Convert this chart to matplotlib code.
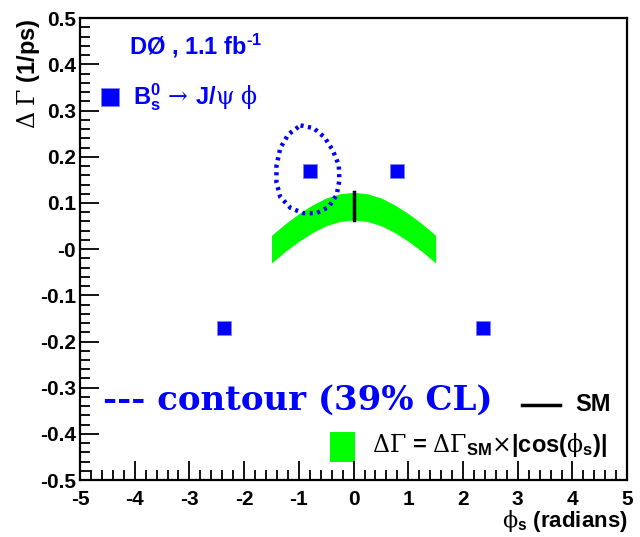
import numpy as np
import matplotlib
matplotlib.use("Agg")
import matplotlib.pyplot as plt
from matplotlib.patches import Rectangle
from matplotlib.ticker import MultipleLocator

plt.rcParams['font.family'] = ['Liberation Sans', 'DejaVu Sans']
plt.rcParams['font.weight'] = 'bold'
plt.rcParams['mathtext.fontset'] = 'custom'
plt.rcParams['mathtext.rm'] = 'Liberation Sans:bold'
plt.rcParams['mathtext.it'] = 'Liberation Sans:bold'
plt.rcParams['mathtext.bf'] = 'Liberation Sans:bold'
plt.rcParams['mathtext.sf'] = 'Liberation Sans:bold'
plt.rcParams['mathtext.cal'] = 'DejaVu Serif:regular'

# measured points (phi_s, DeltaGamma)
pts_x = [-0.80, 0.80, -2.36, 2.36]
pts_y = [0.17, 0.17, -0.17, -0.17]

# 39% CL contour
cont_x = [-0.97, -0.73, -0.53, -0.38, -0.27, -0.26, -0.31, -0.46, -0.68,
          -0.92, -1.15, -1.34, -1.41, -1.41, -1.34, -1.19, -0.97]
cont_y = [0.268, 0.262, 0.242, 0.214, 0.182, 0.149, 0.117, 0.091, 0.078,
          0.078, 0.089, 0.113, 0.145, 0.180, 0.219, 0.249, 0.268]

# SM band  DeltaGamma_SM x |cos(phi_s)|
band_x = [-1.5, -1.25, -1.0, -0.75, -0.5, -0.25, 0.0, 0.25, 0.5, 0.75, 1.0, 1.25, 1.5]
band_hi = [0.030, 0.055, 0.077, 0.096, 0.111, 0.120, 0.123, 0.120, 0.111, 0.096, 0.077, 0.055, 0.030]
band_lo = [-0.030, -0.005, 0.017, 0.036, 0.051, 0.060, 0.063, 0.060, 0.051, 0.036, 0.017, -0.005, -0.030]

# SM value
sm_x = [0.0, 0.0]
sm_y = [0.063, 0.123]

blue = '#0000ff'
green = '#00ff00'

fig = plt.figure(figsize=(6.4, 5.37), dpi=100)
ax = fig.add_axes([0.125, 0.106, 0.855, 0.860])

ax.fill_between(band_x, band_lo, band_hi, color=green, lw=0)
ax.plot(sm_x, sm_y, color='black', lw=2.5)
ax.plot(cont_x, cont_y, color=blue, lw=3.2, linestyle=(0, (0.7, 1.0)))
ax.plot(pts_x, pts_y, 's', color=blue, ms=10, mec='#8080ff', mew=0.6)

ax.set_xlim(-5, 5)
ax.set_ylim(-0.5, 0.5)
ax.xaxis.set_major_locator(MultipleLocator(1))
ax.xaxis.set_minor_locator(MultipleLocator(0.2))
ax.yaxis.set_major_locator(MultipleLocator(0.1))
ax.yaxis.set_minor_locator(MultipleLocator(0.02))
ax.tick_params(which='both', direction='in', top=False, right=False, width=1.3,
               labelsize=15, pad=3)
ax.tick_params(axis='x', which='both', pad=7)
ax.tick_params(which='major', length=14)
ax.tick_params(which='minor', length=7)
ax.set_xticks(range(-5, 6))
ax.set_xticklabels([str(v) for v in range(-5, 6)], fontweight='bold')
yt = [-0.5, -0.4, -0.3, -0.2, -0.1, 0.0, 0.1, 0.2, 0.3, 0.4, 0.5]
ytl = ['-0.5', '-0.4', '-0.3', '-0.2', '-0.1', '-0', '0.1', '0.2', '0.3', '0.4', '0.5']
ax.set_yticks(yt)
ax.set_yticklabels(ytl, fontweight='bold')
for s in ax.spines.values():
    s.set_linewidth(1.6)

# axis titles
ax.text(-0.094, 1.0, r'$\mathcal{\Delta}$ $\mathcal{\Gamma}$ (1/ps)', transform=ax.transAxes,
        rotation=90, ha='center', va='top', fontsize=17, fontweight='bold')
ax.text(1.0, -0.088, r'$\mathcal{\phi}_{\rm s}$ (radians)', transform=ax.transAxes,
        ha='right', va='center', fontsize=16, fontweight='bold')

# legend-like annotations
ax.text(0.09, 0.94, r'DØ , 1.1 fb$^{\text{-1}}$', transform=ax.transAxes,
        ha='left', va='center', fontsize=17, color=blue, fontweight='bold')
ax.plot([0.055], [0.83], 's', transform=ax.transAxes, color=blue, ms=13,
        mec='#8080ff', mew=0.6, clip_on=False)
ax.text(0.097, 0.83, r'B$_{\rm s}^{\rm 0}$$\,\mathcal{\rightarrow}\,$J/$\mathcal{\psi}$ $\mathcal{\phi}$',
        transform=ax.transAxes, ha='left', va='center', fontsize=17, color=blue,
        fontweight='bold')
ax.text(0.042, 0.172, '--- contour (39% CL)', transform=ax.transAxes,
        ha='left', va='center', fontsize=24.5, color=blue, fontweight='bold',
        family='DejaVu Serif')
ax.plot([0.808, 0.877], [0.163, 0.163], transform=ax.transAxes, color='black',
        lw=2.5, clip_on=False)
ax.text(0.906, 0.163, 'SM', transform=ax.transAxes, ha='left', va='center',
        fontsize=17, fontweight='bold')
ax.add_patch(Rectangle((0.457, 0.039), 0.046, 0.065, transform=ax.transAxes,
                       color=green, lw=0))
ax.text(0.534, 0.075, r'$\mathcal{\Delta\Gamma}$ = $\mathcal{\Delta\Gamma}_{\rm SM}$$\mathcal{\times}$|cos($\mathcal{\phi}_{\rm s}$)|',
        transform=ax.transAxes, ha='left', va='center', fontsize=17, fontweight='bold')

fig.savefig('out.png', dpi=100)
